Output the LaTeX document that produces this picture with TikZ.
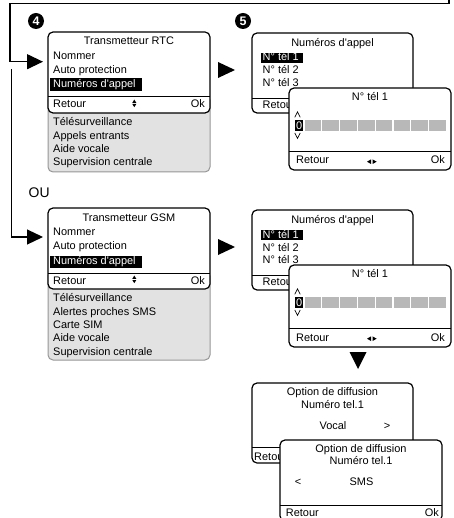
\documentclass[tikz,border=0pt]{standalone}
\usepackage{fontspec}
\newfontfamily\lib{Liberation Sans}
\usetikzlibrary{arrows.meta}
\definecolor{panelfill}{RGB}{226,226,226}
\definecolor{panelborder}{RGB}{150,150,150}
\definecolor{cellgrey}{RGB}{184,184,184}
\begin{document}
\begin{tikzpicture}[x=1bp,y=-1bp,
  every node/.style={inner sep=0pt, font=\lib\fontsize{11}{13}\selectfont},
  lt/.style={anchor=base west},
  ct/.style={anchor=base},
  rt/.style={anchor=base east},
  wt/.style={anchor=base west, text=white},
  screen/.style={draw=black, line width=1.2bp, rounded corners=5bp, fill=white},
  panel/.style={draw=panelborder, line width=1bp, rounded corners=5bp, fill=panelfill},
  sepline/.style={line width=1bp},
  hlbar/.style={fill=black},
  flow/.style={line width=1.2bp, -{Triangle[length=16bp,width=15bp]}},
  tri/.style={fill=black},
  cell/.style={fill=cellgrey},
  chev/.style={line width=0.7bp},
  badge/.style={circle, fill=black, text=white, minimum size=16bp,
    font=\lib\fontsize{12.5}{12.5}\selectfont\bfseries}
]
\useasboundingbox (0,0) rectangle (454,518);
\clip (0,0) rectangle (454,518);

% ---------- flow lines ----------
\coordinate (topin) at (449,-5);
\coordinate (in4) at (43,61.7);
\coordinate (ou0) at (11.5,69);
\coordinate (inG) at (43,237);
\draw[flow] (topin) -- (449,3.3) -- (10,3.3) -- (10,61.7) -- (in4);
\draw[flow] (ou0) -- (11.5,237) -- (inG);
\node[lt, font=\lib\fontsize{14}{15}\selectfont] (ou) at (28.5,198) {OU};

% ---------- badges ----------
\node[badge] (b4) at (36,21) {4};
\node[badge] (b5) at (243,21) {5};

% ---------- Transmetteur RTC ----------
\draw[panel] (48,95) rectangle (210,172);
\draw[screen] (48,32) rectangle (210,113);
\draw[sepline] (48,97) -- (210,97);
\fill[hlbar] (50,78) rectangle (142,91);
\node[ct] (r0) at (129,45) {Transmetteur RTC};
\node[lt] (r1) at (53,59.3) {Nommer};
\node[lt] (r2) at (53,73.3) {Auto protection};
\node[wt] (r3) at (53,87.3) {Numéros d'appel};
\node[lt] (r4) at (53,107.3) {Retour};
\node[rt] (r5) at (205,107.3) {Ok};
\fill (132.3,102.8) -- (136.3,102.8) -- (134.3,99.6) -- cycle;
\fill (132.3,104.0) -- (136.3,104.0) -- (134.3,107.2) -- cycle;
\node[lt] (r6) at (53,126) {Télésurveillance};
\node[lt] (r7) at (53,139.3) {Appels entrants};
\node[lt] (r8) at (53,152.7) {Aide vocale};
\node[lt] (r9) at (53,165.7) {Supervision centrale};

% ---------- Transmetteur GSM ----------
\draw[panel] (48,271) rectangle (210,360);
\draw[screen] (48,208) rectangle (210,289);
\draw[sepline] (48,273) -- (210,273);
\fill[hlbar] (50,255.5) rectangle (142,268);
\node[ct] (g0) at (129,221) {Transmetteur GSM};
\node[lt] (g1) at (53,235.5) {Nommer};
\node[lt] (g2) at (53,249.5) {Auto protection};
\node[wt] (g3) at (53,264.5) {Numéros d'appel};
\node[lt] (g4) at (53,284) {Retour};
\node[rt] (g5) at (205,284) {Ok};
\fill (132.3,278.8) -- (136.3,278.8) -- (134.3,275.6) -- cycle;
\fill (132.3,280.0) -- (136.3,280.0) -- (134.3,283.2) -- cycle;
\node[lt] (g6) at (53,301.7) {Télésurveillance};
\node[lt] (g7) at (53,315.1) {Alertes proches SMS};
\node[lt] (g8) at (53,328.5) {Carte SIM};
\node[lt] (g9) at (53,341.9) {Aide vocale};
\node[lt] (g10) at (53,355.3) {Supervision centrale};

% ---------- right-pointing triangles ----------
\fill[tri] (218,62) -- (235,70) -- (218,78) -- cycle;
\fill[tri] (218,239) -- (235,247) -- (218,255) -- cycle;

% ---------- two rows of Numéros d'appel / N° tél 1 ----------
\foreach \dy/\nm in {0/u,177/l}{
  \begin{scope}[yshift=-\dy bp]
    \draw[screen] (252,33) rectangle (413,113);
    \draw[sepline] (252,98.5) -- (413,98.5);
    \fill[hlbar] (261,52.7) rectangle (303,63.3);
    \node[ct] (\nm na) at (332.5,46.5) {Numéros d'appel};
    \node[wt] (\nm t1) at (262.5,61) {N° tél 1};
    \node[lt] (\nm t2) at (262.5,74) {N° tél 2};
    \node[lt] (\nm t3) at (262.5,86.7) {N° tél 3};
    \node[lt] (\nm ret) at (262.5,108.5) {Retour};
    % N° tél 1 screen
    \draw[screen] (289,88) rectangle (451,170);
    \draw[sepline] (289,151.7) -- (451,151.7);
    \node[ct] (\nm tt) at (370,100.7) {N° tél 1};
    \draw[chev] (294.8,117.3) -- (297.5,111.9) -- (300.2,117.3);
    \draw[chev] (294.8,132.9) -- (297.5,138.3) -- (300.2,132.9);
    \fill[hlbar] (295,120) rectangle (303.3,131);
    \node[wt] (\nm zero) at (296,129.6) {0};
    \foreach \i in {0,...,7}{
      \fill[cell] ({304.6+\i*17.8},120) rectangle ({304.6+(\i+1)*17.8-1.2},131);
    }
    \node[lt] (\nm r2) at (296,164) {Retour};
    \node[rt] (\nm ok) at (445,164) {Ok};
    \fill (367,161.7) -- (371,159.4) -- (371,164) -- cycle;
    \fill (376.6,161.7) -- (372.6,159.4) -- (372.6,164) -- cycle;
  \end{scope}
}

% ---------- down triangle ----------
\fill[tri] (349.5,352) -- (366.5,352) -- (358,369) -- cycle;

% ---------- Option de diffusion (Vocal) ----------
\draw[screen] (252,383) rectangle (413,463);
\draw[sepline] (252,447.3) -- (413,447.3);
\node[ct] (v0) at (332.5,395.8) {Option de diffusion};
\node[ct] (v1) at (332.5,408.1) {Numéro tel.1};
\node[ct] (v2) at (333,429) {Vocal};
\node[ct] (v3) at (387,429) {>};
\node[lt] (v4) at (254,460) {Retour};

% ---------- Option de diffusion (SMS) ----------
\draw[screen] (280,440) rectangle (442,521);
\draw[sepline] (280,505) -- (442,505);
\node[ct] (s0) at (361,452.5) {Option de diffusion};
\node[ct] (s1) at (361,464.8) {Numéro tel.1};
\node[ct] (s2) at (298,485.6) {<};
\node[ct] (s3) at (361.5,485.6) {SMS};
\node[lt] (s4) at (285.7,516) {Retour};
\node[rt] (s5) at (439,516) {Ok};
\end{tikzpicture}
\end{document}
